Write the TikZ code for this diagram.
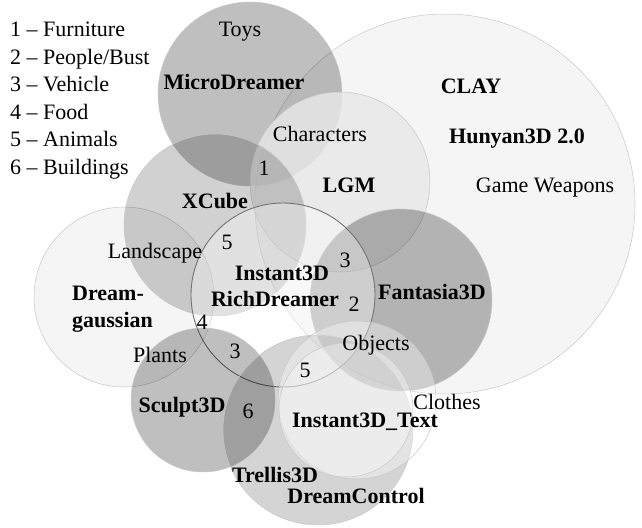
\documentclass[tikz,border=0pt]{standalone}
\usepackage{fontspec}
\setmainfont{Liberation Serif}
\begin{document}
\begin{tikzpicture}[x=1pt,y=-1pt,
  venn/.style={circle, inner sep=0pt, outer sep=0pt, minimum size=#1, line width=0.5pt, draw=black!22},
  dark/.style={fill=black, fill opacity=#1},
  light/.style={fill=white, fill opacity=#1},
  lbl/.style={inner sep=0pt, anchor=base, font=\fontsize{22}{27}\selectfont},
  blbl/.style={lbl, font=\fontsize{22}{27}\selectfont\bfseries},
  leg/.style={lbl, anchor=base west}]
\useasboundingbox (0,0) rectangle (642,527);

% circles
\node[venn=380pt, dark=0.04] (clay) at (445,204) {};
\node[venn=184pt, dark=0.25] (micro) at (250,94) {};
\node[venn=180pt, fill=black!9, fill opacity=0.8] (lgm) at (340,182) {};
\node[venn=180pt, fill=black!5, fill opacity=0.8] (dg) at (124,297) {};
\node[venn=182pt, dark=0.18] (xcube) at (215,225) {};
\node[venn=182pt, dark=0.27] (fantasia) at (401,300) {};
\node[venn=184pt, light=0.35, draw=black!55, line width=0.9pt] (instant) at (283,295) {};
\node[venn=144pt, dark=0.25] (sculpt) at (203,400) {};
\node[venn=190pt, dark=0.17] (trellis) at (318,430) {};
\node[venn=158pt, light=0.35] (objects) at (357,400) {};
\node[venn=134pt, light=0.35] (itext) at (346,410) {};

% legend
\node[leg] (l1) at (10,37) {1 – Furniture};
\node[leg] (l2) at (10,64) {2 – People/Bust};
\node[leg] (l3) at (10,91) {3 – Vehicle};
\node[leg] (l4) at (10,119) {4 – Food};
\node[leg] (l5) at (10,146.5) {5 – Animals};
\node[leg] (l6) at (10,174) {6 – Buildings};

% labels
\node[lbl] (toys) at (240,37) {Toys};
\node[blbl] (tmicro) at (234,89) {MicroDreamer};
\node[lbl] (chars) at (320,141) {Characters};
\node[lbl] (n1) at (264,175) {1};
\node[blbl] (txcube) at (215,208) {XCube};
\node[blbl] (tclay) at (471,93) {CLAY};
\node[blbl] (thun) at (517,143) {Hunyan3D 2.0};
\node[lbl] (game) at (545,192) {Game Weapons};
\node[blbl] (tlgm) at (349,192) {LGM};
\node[lbl] (n5a) at (227,249) {5};
\node[lbl] (land) at (155,258) {Landscape};
\node[lbl] (n3a) at (345,267) {3};
\node[blbl] (tinst) at (282,280) {Instant3D};
\node[blbl] (trich) at (275,306) {RichDreamer};
\node[lbl] (n2) at (354,311) {2};
\node[blbl] (tfant) at (432,299) {Fantasia3D};
\node[blbl, anchor=base west] (tdg1) at (72,300) {Dream-};
\node[blbl, anchor=base west] (tdg2) at (72,327) {gaussian};
\node[lbl] (n4) at (202,329) {4};
\node[lbl] (plants) at (160,362) {Plants};
\node[lbl] (n3b) at (235,358) {3};
\node[lbl] (tobj) at (376,350) {Objects};
\node[lbl] (n5b) at (305,377) {5};
\node[blbl] (tsculpt) at (182,412) {Sculpt3D};
\node[lbl] (n6) at (248,418) {6};
\node[lbl] (clothes) at (447,409) {Clothes};
\node[blbl] (titext) at (365,427) {Instant3D\_Text};
\node[blbl] (ttrellis) at (275,482) {Trellis3D};
\node[blbl] (tdc) at (356,503) {DreamControl};
\end{tikzpicture}
\end{document}
